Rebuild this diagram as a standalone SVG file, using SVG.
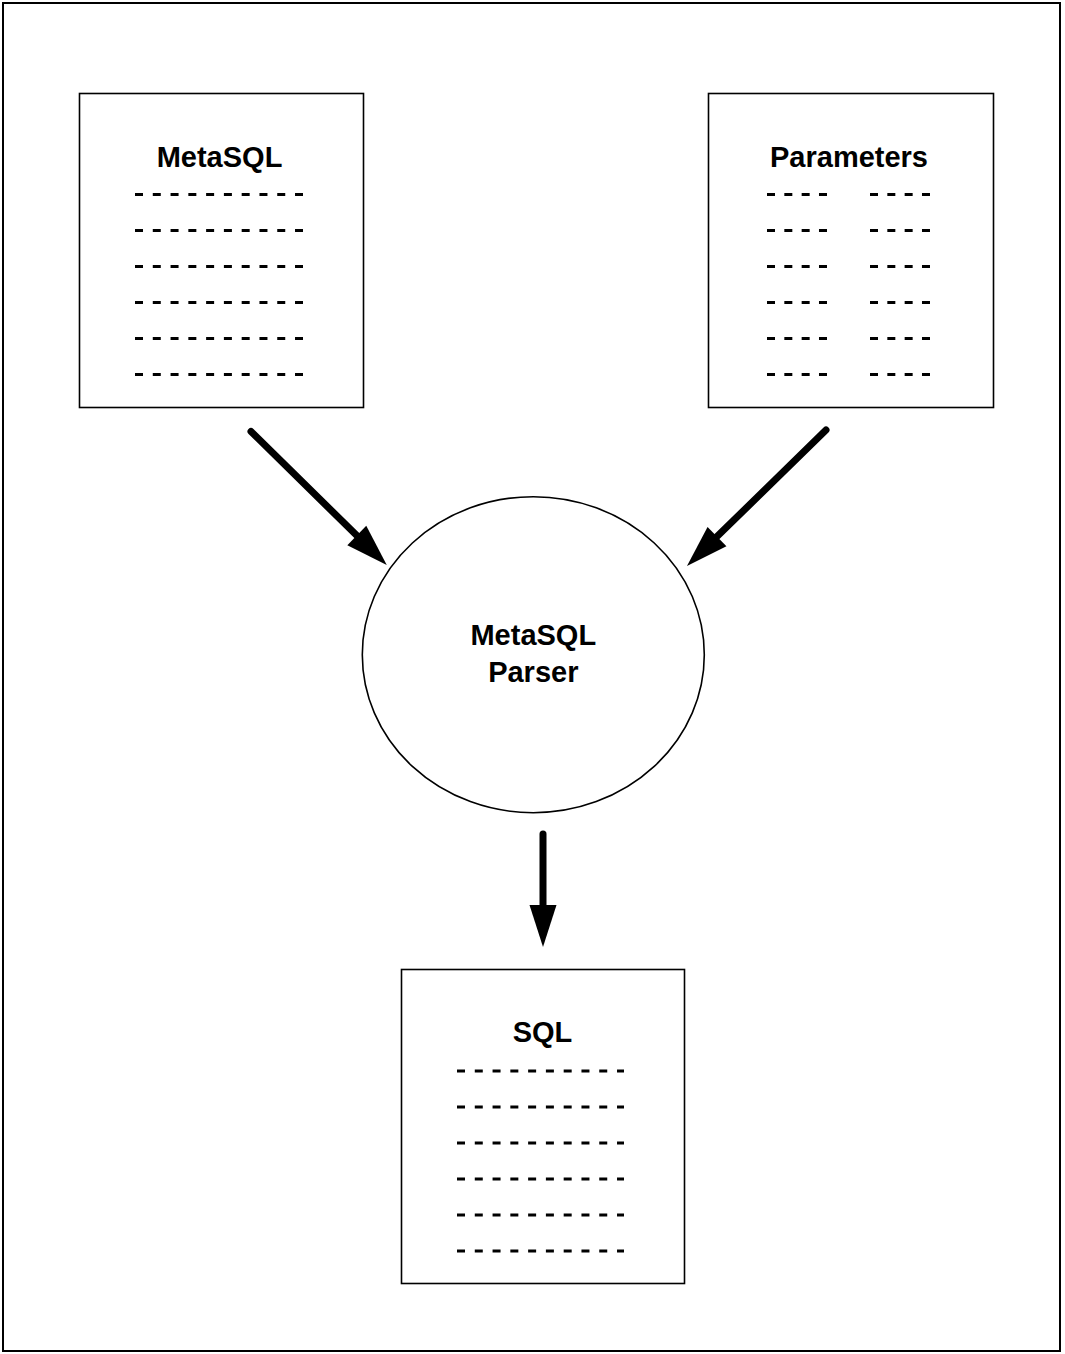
<svg xmlns="http://www.w3.org/2000/svg" width="1065" height="1354" viewBox="0 0 1065 1354">
<style>
.box{fill:#fff;stroke:#000;stroke-width:1.6}
.title{font-family:"Liberation Sans",Arial,sans-serif;font-weight:bold;font-size:29px;text-anchor:middle;fill:#000}
.dash{stroke:#000;stroke-width:3;stroke-dasharray:8 9.78;fill:none}
.pdash{stroke:#000;stroke-width:3;stroke-dasharray:8 9.33;fill:none}
.conn{stroke:#000;stroke-width:7;stroke-linecap:round;fill:none;marker-end:url(#head)}
</style>
<defs>
<marker id="head" markerUnits="userSpaceOnUse" markerWidth="44" markerHeight="28" refX="0" refY="13.5" orient="auto" overflow="visible">
<path d="M0,0 L42,13.5 L0,27 Z" fill="#000"/>
</marker>
</defs>
<rect x="3" y="3" width="1057" height="1348" fill="#fff" stroke="#000" stroke-width="2"/>
<g id="metasql">
<rect class="box" x="79.5" y="93.5" width="284" height="314"/>
<text class="title" x="219.5" y="166.5">MetaSQL</text>
<path class="dash" d="M135,194.5H303M135,230.5H303M135,266.5H303M135,302.5H303M135,338.5H303M135,374.5H303"/>
</g>
<g id="parameters">
<rect class="box" x="708.5" y="93.5" width="285" height="314"/>
<text class="title" x="849" y="166.5">Parameters</text>
<path class="pdash" d="M767,194.5H827M767,230.5H827M767,266.5H827M767,302.5H827M767,338.5H827M767,374.5H827"/>
<path class="pdash" d="M870,194.5H930M870,230.5H930M870,266.5H930M870,302.5H930M870,338.5H930M870,374.5H930"/>
</g>
<g id="parser">
<ellipse class="box" cx="533.3" cy="654.7" rx="171" ry="158"/>
<text class="title" x="533.3" y="645">MetaSQL</text>
<text class="title" x="533.3" y="681.5">Parser</text>
</g>
<g id="sql">
<rect class="box" x="401.5" y="969.5" width="283" height="314"/>
<text class="title" x="542.5" y="1042">SQL</text>
<path class="dash" d="M457,1071H624M457,1107H624M457,1143H624M457,1179H624M457,1215H624M457,1251H624"/>
</g>
<g id="connectors">
<line class="conn" x1="251" y1="431.5" x2="356.8" y2="535.5"/>
<line class="conn" x1="826" y1="430" x2="717" y2="536.6"/>
<line class="conn" x1="543" y1="834" x2="543" y2="905"/>
</g>
</svg>
